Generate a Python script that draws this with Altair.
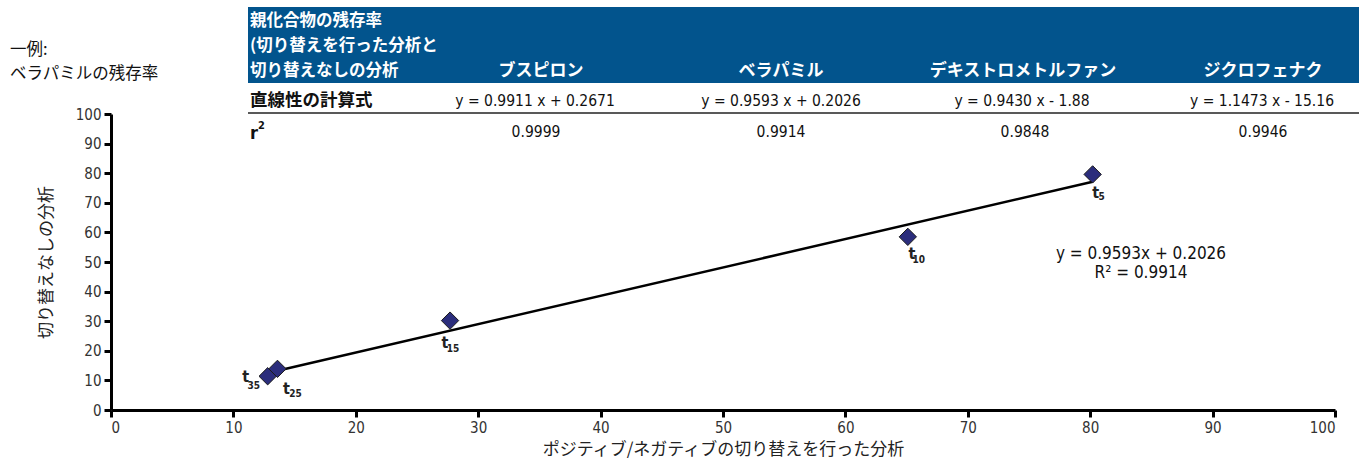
import altair as alt
import pandas as pd

# --- data -------------------------------------------------------------
samples = ["t35", "t25", "t15", "t10", "t5"]
subscripts = ["35", "25", "15", "10", "5"]
switched = [12.8, 13.6, 27.7, 65.1, 80.2]       # ポジティブ/ネガティブ切り替えあり
unswitched = [11.4, 13.9, 30.2, 58.5, 79.6]     # 切り替えなし

trend_slope = 0.9593
trend_intercept = 0.2026
trend_r2 = 0.9914

compounds = ["ブスピロン", "ベラパミル", "デキストロメトルファン", "ジクロフェナク"]
equations = ["y = 0.9911 x + 0.2671", "y = 0.9593 x + 0.2026",
             "y = 0.9430 x - 1.88", "y = 1.1473 x - 15.16"]
r2_values = ["0.9999", "0.9914", "0.9848", "0.9946"]

x_ticks = list(range(0, 101, 10))
y_ticks = list(range(0, 101, 10))

# --- layout / style ---------------------------------------------------
W, H = 1224, 296
NUM_FONT = "'DejaVu Sans Condensed', 'Liberation Sans', sans-serif"
JP_FONT = "Noto Sans CJK JP"
BLUE = "#02548d"
NAVY = "#2b2d7c"

# label offsets (pixels) for the sample names: (t dx, t dy, sub dx, sub dy)
label_offsets = {
    "t35": (-22, 1, -14, 10),
    "t25": (9, 20, 18, 25),
    "t15": (-5, 22, 3, 28),
    "t10": (4, 17, 11, 23),
    "t5": (3, 19, 9, 23),
}
col_px = [430, 670, 912, 1152]
eq_px = [424, 670, 911, 1151]
r2_px = [425, 670, 914, 1152]

points = pd.DataFrame({"sample": samples, "sub": subscripts,
                       "x": switched, "y": unswitched})

x_scale = alt.Scale(domain=[0, 100], nice=False, zero=True)
y_scale = alt.Scale(domain=[0, 100], nice=False, zero=True)

x_enc = alt.X("x:Q", scale=x_scale,
              axis=alt.Axis(values=x_ticks, title="ポジティブ/ネガティブの切り替えを行った分析",
                            titlePadding=6))
y_enc = alt.Y("y:Q", scale=y_scale,
              axis=alt.Axis(values=y_ticks, title="切り替えなしの分析", titlePadding=20))

one = pd.DataFrame({"a": [0]})


def text_at(txt, px, py, **style):
    """A single text item placed in pixel coordinates of the plot area."""
    return alt.Chart(one).mark_text(text=txt, baseline="middle", **style).encode(
        x=alt.value(px), y=alt.value(py)
    )


# trend line drawn from the stated fit equation over the measured range
trend_df = pd.DataFrame({"x": [min(switched), max(switched)]})
trend = (
    alt.Chart(trend_df)
    .transform_calculate(y=f"{trend_slope} * datum.x + {trend_intercept}")
    .mark_line(color="black", strokeWidth=2.5)
    .encode(x=x_enc, y=y_enc)
)

scatter = (
    alt.Chart(points)
    .mark_point(shape="diamond", size=300, filled=True, fill=NAVY,
                stroke="#1a1a1a", strokeWidth=1, opacity=1)
    .encode(x=x_enc, y=y_enc)
)

label_layers = []
for s in samples:
    tdx, tdy, sdx, sdy = label_offsets[s]
    base = alt.Chart(points).transform_filter(alt.datum.sample == s)
    label_layers.append(
        base.mark_text(text="t", font=NUM_FONT, fontSize=16, fontWeight="bold",
                       color="#222", dx=tdx, dy=tdy, baseline="middle")
        .encode(x=x_enc, y=y_enc)
    )
    label_layers.append(
        base.mark_text(font=NUM_FONT, fontSize=10, fontWeight="bold",
                       color="#222", dx=sdx, dy=sdy, baseline="middle")
        .encode(x=x_enc, y=y_enc, text="sub:N")
    )

fit_layers = [
    text_at(f"y = {trend_slope}x + {trend_intercept}", 1030, 140,
            font=NUM_FONT, fontSize=17, color="#111"),
    text_at(f"R² = {trend_r2}", 1030, 159, font=NUM_FONT, fontSize=17, color="#111"),
]

# --- summary table above the plot -------------------------------------
band = alt.Chart(one).mark_rect(color=BLUE).encode(
    x=alt.value(137), x2=alt.value(W + 24), y=alt.value(-107), y2=alt.value(-31)
)
divider = alt.Chart(one).mark_rule(color="#222", strokeWidth=1.5).encode(
    x=alt.value(137), x2=alt.value(W + 24), y=alt.value(-1)
)

table_layers = []
for txt, py in zip(["親化合物の残存率", "(切り替えを行った分析と", "切り替えなしの分析"], [-93, -68, -43]):
    table_layers.append(text_at(txt, 139, py, font=JP_FONT, fontSize=16.5,
                                fontWeight="bold", color="white", align="left"))
for txt, px in zip(compounds, col_px):
    table_layers.append(text_at(txt, px, -43, font=JP_FONT, fontSize=17,
                                fontWeight="bold", color="white"))
for txt, px in zip(equations, eq_px):
    table_layers.append(text_at(txt, px, -13, font=NUM_FONT, fontSize=15.5, color="#111"))
for txt, px in zip(r2_values, r2_px):
    table_layers.append(text_at(txt, px, 18, font=NUM_FONT, fontSize=15.5, color="#111"))
table_layers.append(text_at("直線性の計算式", 139, -13, font=JP_FONT, fontSize=17.5,
                            fontWeight="bold", color="#111", align="left"))
table_layers.append(text_at("r", 139, 20, font=NUM_FONT, fontSize=18,
                            fontWeight="bold", color="#111", align="left"))
table_layers.append(text_at("2", 147, 12, font=NUM_FONT, fontSize=11,
                            fontWeight="bold", color="#111", align="left"))
table_layers.append(text_at("一例:", -101, -64, font=JP_FONT, fontSize=16.5,
                            color="#111", align="left"))
table_layers.append(text_at("ベラパミルの残存率", -101, -40, font=JP_FONT, fontSize=16.5,
                            color="#111", align="left"))

chart = (
    alt.layer(trend, scatter, band, divider, *table_layers, *label_layers, *fit_layers)
    .properties(
        width=W, height=H,
        autosize=alt.AutoSizeParams(type="none"),
        padding={"left": 111, "top": 114, "right": 24, "bottom": 54},
    )
    .configure_view(stroke=None)
    .configure_axis(
        domainColor="black", domainWidth=3, tickColor="black", tickWidth=3,
        tickSize=7, grid=False, labelFont=NUM_FONT, labelFontSize=15,
        labelColor="#333", labelPadding=3, titleFont=JP_FONT, titleFontSize=17,
        titleFontWeight="normal", titleColor="#222",
    )
)

chart.save("out.html", embed_options={"renderer": "svg", "actions": False})
